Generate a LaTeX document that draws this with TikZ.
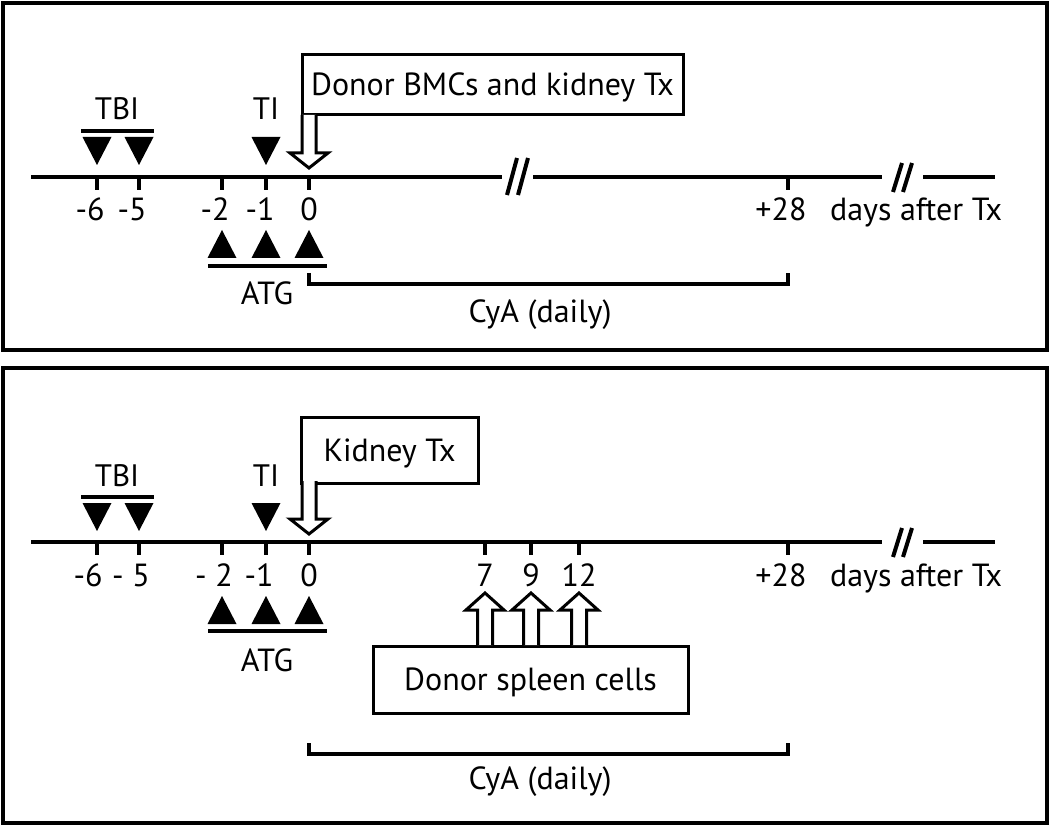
\documentclass[tikz,border=0pt]{standalone}
\usepackage{fontspec}
\setmainfont{PT Sans}
\begin{document}
\begin{tikzpicture}[x=1pt,y=-1pt,line join=miter,
  frame/.style={line width=3.5pt},
  axis/.style={line width=4pt},
  tickmark/.style={line width=3.5pt},
  barline/.style={line width=4.5pt},
  brk/.style={line width=4pt},
  lbl/.style={font=\fontsize{32}{34}\selectfont, inner sep=0pt, anchor=base},
  smalllbl/.style={font=\fontsize{31}{33}\selectfont, inner sep=0pt, anchor=base},
  txbox/.style={draw, line width=3pt, font=\fontsize{32}{34}\selectfont, inner sep=0pt, text height=22pt, text depth=0pt},
  tridown/.pic={\fill (-14.5,-28) -- (14.5,-28) -- (0,0) -- cycle;},
  triup/.pic={\fill (-14.5,28) -- (14.5,28) -- (0,0) -- cycle;},
  hdown/.pic={\draw[line width=3pt, fill=white] (-7,-53) -- (-7,-15) -- (-19,-15) -- (0,0) -- (19,-15) -- (7,-15) -- (7,-53);},
  hup/.pic={\draw[line width=3pt, fill=white] (-7.5,52) -- (-7.5,17) -- (-19,17) -- (0,0) -- (19,17) -- (7.5,17) -- (7.5,52);}
]
\useasboundingbox (0,0) rectangle (1050,826);

% ===== Top panel =====
\draw[frame] (3,3) rectangle (1047,350);
\coordinate (a1s) at (31,177);
\coordinate (a1b1) at (502,177);
\coordinate (a1b2) at (533,177);
\coordinate (a1b3) at (882,177);
\coordinate (a1b4) at (923,177);
\coordinate (a1e) at (995,177);
\draw[axis] (a1s) -- (a1b1) (a1b2) -- (a1b3) (a1b4) -- (a1e);
\draw[brk] (517,158) -- (507,195) (528,158) -- (518,195);
\draw[brk] (902,163) -- (893,192) (912,163) -- (903,192);
\foreach \x in {97,139,222,266,309,788} \draw[tickmark] (\x,177) -- (\x,190);
\node[lbl] (u6) at (90,221) {-6};
\node[lbl] (u5) at (132,221) {-5};
\node[lbl] (u2) at (215,221) {-2};
\node[lbl] (u1) at (260,221) {-1};
\node[lbl] (u0) at (309,221) {0};
\node[lbl] (u28) at (781,221) {+28};
\node[lbl] (udays) at (916,221) {days after Tx};
\node[smalllbl] (utbi) at (117,120) {TBI};
\draw[barline] (81,131) -- (154,131);
\pic at (97,165) {tridown};
\pic at (139,165) {tridown};
\node[smalllbl] (uti) at (266,120) {TI};
\pic at (266,165) {tridown};
\node[txbox, minimum width=381pt, minimum height=60pt] (ubox) at (492.5,85) {Donor BMCs and kidney Tx};
\pic at (309,168) {hdown};
\pic at (222,230) {triup};
\pic at (266,230) {triup};
\pic at (309,230) {triup};
\draw[barline] (208,266) -- (327,266);
\node[lbl] (uatg) at (267,305) {ATG};
\coordinate (ucs) at (309,273);
\coordinate (uce) at (788,273);
\draw[line width=3.5pt] (ucs) -- ++(0,11) -| (uce);
\node[lbl] (ucya) at (540,323) {CyA (daily)};

% ===== Bottom panel =====
\draw[frame] (3,368) rectangle (1047,823);
\coordinate (a2s) at (31,542);
\coordinate (a2b1) at (882,542);
\coordinate (a2b2) at (923,542);
\coordinate (a2e) at (995,542);
\draw[axis] (a2s) -- (a2b1) (a2b2) -- (a2e);
\draw[brk] (902,528) -- (893,557) (912,528) -- (903,557);
\foreach \x in {97,139,222,266,309,485,531,579,788} \draw[tickmark] (\x,542) -- (\x,555);
\node[lbl] (l6) at (88,586) {-6};
\node[lbl] (l5) at (131,586) {- 5};
\node[lbl] (l2) at (214,586) {- 2};
\node[lbl] (l1) at (259,586) {-1};
\node[lbl] (l0) at (309,586) {0};
\node[lbl] (l7) at (485,586) {7};
\node[lbl] (l9) at (531,586) {9};
\node[lbl] (l12) at (579,586) {12};
\node[lbl] (l28) at (781,586) {+28};
\node[lbl] (ldays) at (916,586) {days after Tx};
\node[smalllbl] (ltbi) at (117,486) {TBI};
\draw[barline] (81,497) -- (154,497);
\pic at (97,531) {tridown};
\pic at (139,531) {tridown};
\node[smalllbl] (lti) at (266,486) {TI};
\pic at (266,531) {tridown};
\node[txbox, minimum width=177pt, minimum height=66pt] (lbox) at (389.5,450) {Kidney Tx};
\pic at (309,534) {hdown};
\pic at (222,596) {triup};
\pic at (266,596) {triup};
\pic at (309,596) {triup};
\draw[barline] (208,631) -- (327,631);
\node[lbl] (latg) at (267,671) {ATG};
\node[txbox, minimum width=315pt, minimum height=67pt] (spleen) at (530.5,679.5) {Donor spleen cells};
\pic at (485,593) {hup};
\pic at (531,593) {hup};
\pic at (579,593) {hup};
\coordinate (lcs) at (309,743);
\coordinate (lce) at (788,743);
\draw[line width=3.5pt] (lcs) -- ++(0,11) -| (lce);
\node[lbl] (lcya) at (540,789) {CyA (daily)};
\end{tikzpicture}
\end{document}
